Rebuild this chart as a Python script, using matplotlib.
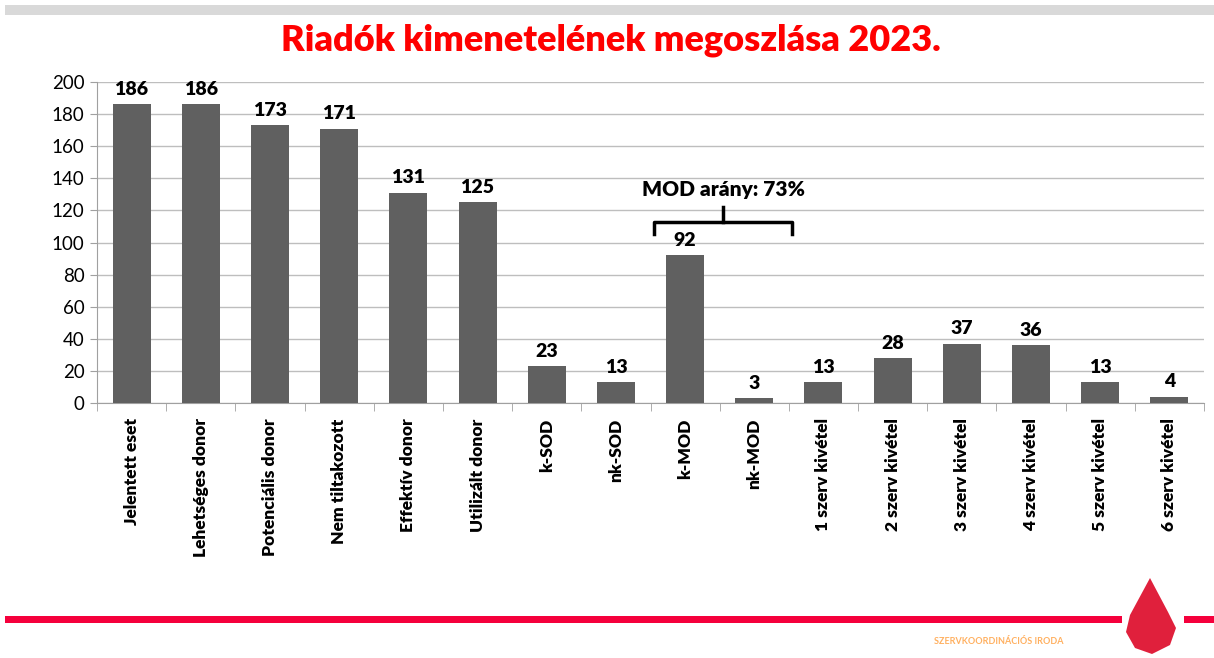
import numpy as np
import matplotlib.pyplot as plt
from matplotlib.lines import Line2D
from matplotlib.patches import Rectangle, Polygon

plt.rcParams['font.family'] = ['Lato', 'DejaVu Sans']

# Adatok
categories = ['Jelentett eset', 'Lehetséges donor', 'Potenciális donor', 'Nem tiltakozott',
              'Effektív donor', 'Utilizált donor', 'k-SOD', 'nk-SOD', 'k-MOD', 'nk-MOD',
              '1 szerv kivétel', '2 szerv kivétel', '3 szerv kivétel', '4 szerv kivétel',
              '5 szerv kivétel', '6 szerv kivétel']
values = [186, 186, 173, 171, 131, 125, 23, 13, 92, 3, 13, 28, 37, 36, 13, 4]
yticks = [0, 20, 40, 60, 80, 100, 120, 140, 160, 180, 200]
bracket_text = 'MOD arány: 73%'

fig = plt.figure(figsize=(12.14, 6.58), dpi=100)
fig.patch.set_facecolor('white')

# Díszítő sávok, logó
fig.add_artist(Rectangle((0.004, 1 - 15/658), 0.996, 10/658, transform=fig.transFigure,
                         color='#D9D9D9', lw=0))
fig.add_artist(Rectangle((0.004, 1 - 623/658), 0.92, 7/658, transform=fig.transFigure,
                         color='#F5003C', lw=0))
fig.add_artist(Rectangle((0.975, 1 - 623/658), 0.025, 7/658, transform=fig.transFigure,
                         color='#F5003C', lw=0))
fig.add_artist(Polygon([(1150/1214, 1 - 578/658), (1130/1214, 1 - 615/658),
                        (1126/1214, 1 - 632/658), (1135/1214, 1 - 648/658),
                        (1152/1214, 1 - 654/658), (1170/1214, 1 - 645/658),
                        (1176/1214, 1 - 628/658), (1168/1214, 1 - 612/658)],
                       closed=True, transform=fig.transFigure, color='#E0203C', lw=0))
fig.text(1064/1214, 1 - 641/658, 'SZERVKOORDINÁCIÓS IRODA', color='#FFB060',
         fontsize=6.5, fontweight='bold', ha='right', va='center')

fig.text(0.503, 1 - 40/658, 'Riadók kimenetelének megoszlása 2023.', color='#FF0000',
         fontsize=26, fontweight='heavy', ha='center', va='center')

ax = fig.add_axes([97/1214, 1 - 403/658, 1107/1214, 321/658])
x = np.arange(len(categories))
bars = ax.bar(x, values, width=0.55, color='#606060', zorder=3)
for xi, v in zip(x, values):
    ax.text(xi, v + 4, str(v), ha='center', va='bottom', fontsize=14, fontweight='heavy')

ax.set_xlim(-0.5, len(categories) - 0.5)
ax.set_ylim(0, 200)
ax.set_yticks(yticks)
ax.tick_params(axis='y', labelsize=13.5, length=5, color='#A0A0A0', pad=4)
ax.grid(axis='y', color='#BEBEBE', lw=1, zorder=0)

ax.set_xticks(x)
ax.set_xticklabels(categories, rotation=90, fontsize=12.5, fontweight='heavy')
ax.tick_params(axis='x', length=0, pad=11)
ax.set_xticks(np.arange(-0.5, len(categories), 1), minor=True)
ax.tick_params(axis='x', which='minor', length=6, color='#A0A0A0')

for s in ['top', 'right']:
    ax.spines[s].set_visible(False)
for s in ['left', 'bottom']:
    ax.spines[s].set_color('#A0A0A0')

# Kapcsos zárójel a MOD oszlopok felett
bx0, bx1, bmid = 7.55, 9.55, 8.55
ax.add_line(Line2D([bx0, bx0, bx1, bx1], [105, 112.5, 112.5, 105], color='black', lw=2.5,
                   solid_joinstyle='round', zorder=4))
ax.add_line(Line2D([bmid, bmid], [112.5, 122], color='black', lw=2.5, zorder=4))
ax.text(bmid, 127, bracket_text, ha='center', va='bottom', fontsize=15, fontweight='heavy')

fig.savefig('out.png', dpi=100)
